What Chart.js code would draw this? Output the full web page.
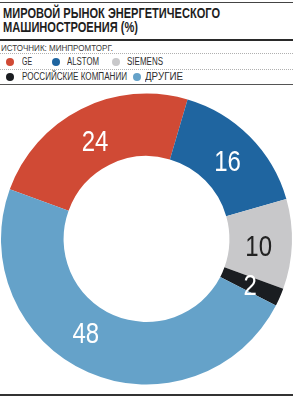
<!DOCTYPE html>
<html>
<head>
<meta charset="utf-8">
<script src="https://cdn.jsdelivr.net/npm/chart.js@4"></script>
<style>
body { margin: 0; background: #fff; font-family: "Liberation Sans", Arial, sans-serif; color: #222; }
#wrap { position: relative; width: 293px; height: 397px; overflow: hidden; }
.ln { position: absolute; left: 0; width: 293px; }
.txt { position: absolute; white-space: nowrap; display: inline-block; transform-origin: 0 0; }
.title { font-weight: bold; font-size: 14px; line-height: 14px; color: #1e1e1e; }
.src { font-size: 9px; line-height: 9px; color: #3a3a3a; }
.lg { font-size: 10px; line-height: 10px; color: #2e2e2e; }
.mk { position: absolute; width: 8px; height: 8px; border-radius: 50%; }
#chartBox { position: absolute; left: 0; top: 86px; width: 293px; height: 306px; }
</style>
</head>
<body>
<div id="wrap">
  <div class="ln" style="top:2px;height:1px;background:#444"></div>
  <span class="txt title" style="left:3px;top:6px" data-w="217">МИРОВОЙ РЫНОК ЭНЕРГЕТИЧЕСКОГО</span>
  <span class="txt title" style="left:3px;top:20px" data-w="135">МАШИНОСТРОЕНИЯ (%)</span>
  <div class="ln" style="top:39px;height:2px;background:#2a2a2a"></div>
  <span class="txt src" style="left:1px;top:43.5px" data-w="112">ИСТОЧНИК: МИНПРОМТОРГ.</span>
  <div class="ln" style="top:53px;border-top:1px dotted #b0b0b0"></div>
  <div id="legend"></div>
  <div class="ln" style="top:69px;border-top:1px dotted #b0b0b0"></div>
  <div class="ln" style="top:84px;height:1px;background:#555"></div>
  <div id="chartBox"><canvas id="pie"></canvas></div>
  <div class="ln" style="top:394px;height:2px;background:#333"></div>
</div>
<script>
var labels = ['GE', 'ALSTOM', 'SIEMENS', 'РОССИЙСКИЕ КОМПАНИИ', 'ДРУГИЕ'];
var shares = [24, 16, 10, 2, 48];
var colors = ['#d04a35', '#1f65a0', '#c8c8ca', '#1a1d21', '#65a2c9'];
var labelColors = ['#fff', '#fff', '#222', '#fff', '#fff'];

// legend layout: [marker x, text x, row y, text width]
var legendPos = [[10, 22, 57, 10], [56, 67, 57, 32], [116, 127, 57, 36], [10, 22, 72, 105], [137, 145, 72, 38]];
var lg = document.getElementById('legend');
for (var i = 0; i < labels.length; i++) {
	var m = document.createElement('div');
	m.className = 'mk';
	m.style.background = colors[i];
	m.style.left = (legendPos[i][0] - 4) + 'px';
	m.style.top = (legendPos[i][2] + 1) + 'px';
	lg.appendChild(m);
	var t = document.createElement('span');
	t.className = 'txt lg';
	t.style.left = legendPos[i][1] + 'px';
	t.style.top = legendPos[i][2] + 'px';
	t.setAttribute('data-w', legendPos[i][3]);
	t.textContent = labels[i];
	lg.appendChild(t);
}

// squeeze texts to the condensed widths of the original
var fits = document.querySelectorAll('[data-w]');
for (var j = 0; j < fits.length; j++) {
	var w = fits[j].getBoundingClientRect().width;
	var target = parseFloat(fits[j].getAttribute('data-w'));
	fits[j].style.transform = 'scaleX(' + (target / w) + ')';
}

// small nudges of the numbers from the arc centres
var labelShift = [[0, 3], [0, 2], [-2, 2], [-1, 0], [-15, -11]];

var sliceLabels = {
	id: 'sliceLabels',
	afterDatasetsDraw: function(chart) {
		var ctx = chart.ctx;
		var meta = chart.getDatasetMeta(0);
		var fs = 30;
		for (var i = 0; i < meta.data.length; i++) {
			var p = meta.data[i].tooltipPosition();
			ctx.save();
			ctx.translate(p.x + labelShift[i][0], p.y + labelShift[i][1] + fs * 0.358);
			ctx.scale(0.8, 1);
			ctx.font = fs + 'px "Liberation Sans", Arial, sans-serif';
			ctx.textAlign = 'center';
			ctx.textBaseline = 'alphabetic';
			ctx.fillStyle = labelColors[i];
			ctx.fillText(shares[i], 0, 0);
			ctx.restore();
		}
	}
};

var ctx = document.getElementById('pie');
var pieChart = new Chart(ctx, {
	type: 'doughnut',
	data: {
		labels: labels,
		datasets: [{
			data: shares,
			backgroundColor: colors,
			borderWidth: 0
		}]
	},
	options: {
		responsive: true,
		maintainAspectRatio: false,
		animation: false,
		rotation: -70,
		cutout: '57%',
		layout: { padding: 1 },
		plugins: {
			legend: { display: false },
			tooltip: { enabled: false }
		}
	},
	plugins: [sliceLabels]
});
</script>
</body>
</html>
